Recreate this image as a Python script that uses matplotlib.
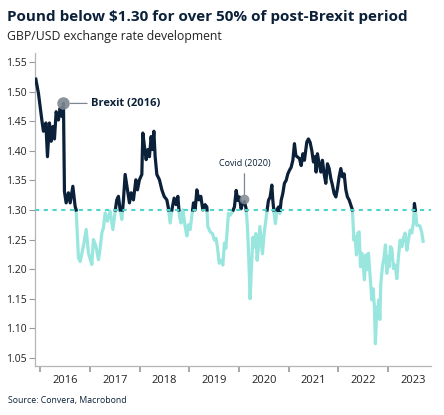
import numpy as np
import matplotlib
matplotlib.use("Agg")
import matplotlib.pyplot as plt

# =========================
# DATA
# =========================

# time in decimal years, GBP/USD rate
t = [2015.913, 2015.966, 2016.034, 2016.066, 2016.115, 2016.147, 2016.187, 2016.221,
     2016.256, 2016.288, 2016.322, 2016.368, 2016.402, 2016.437, 2016.469, 2016.489,
     2016.523, 2016.569, 2016.604, 2016.658, 2016.704, 2016.724, 2016.771, 2016.805,
     2016.871, 2016.926, 2016.972, 2017.020, 2017.040, 2017.072, 2017.121, 2017.173,
     2017.207, 2017.241, 2017.274, 2017.308, 2017.354, 2017.408, 2017.463, 2017.509,
     2017.542, 2017.575, 2017.610, 2017.644, 2017.676, 2017.710, 2017.757, 2017.797,
     2017.831, 2017.877, 2017.926, 2017.958, 2017.998, 2018.046, 2018.066, 2018.099,
     2018.133, 2018.167, 2018.199, 2018.233, 2018.260, 2018.288, 2018.314, 2018.348,
     2018.400, 2018.449, 2018.495, 2018.549, 2018.581, 2018.616, 2018.650, 2018.696,
     2018.736, 2018.771, 2018.803, 2018.837, 2018.871, 2018.918, 2018.952, 2018.984,
     2019.018, 2019.052, 2019.085, 2019.119, 2019.153, 2019.193, 2019.233, 2019.274,
     2019.320, 2019.354, 2019.374, 2019.421, 2019.467, 2019.507, 2019.541, 2019.575,
     2019.602, 2019.642, 2019.676, 2019.708, 2019.736, 2019.769, 2019.789, 2019.823,
     2019.869, 2019.909, 2019.944, 2019.978, 2020.010, 2020.044, 2020.070, 2020.111,
     2020.145, 2020.171, 2020.199, 2020.225, 2020.252, 2020.280, 2020.312, 2020.340,
     2020.366, 2020.392, 2020.421, 2020.447, 2020.473, 2020.507, 2020.541, 2020.567,
     2020.594, 2020.628, 2020.662, 2020.682, 2020.708, 2020.734, 2020.763, 2020.795,
     2020.823, 2020.849, 2020.883, 2020.915, 2020.950, 2020.984, 2021.016, 2021.050,
     2021.085, 2021.117, 2021.145, 2021.185, 2021.217, 2021.252, 2021.286, 2021.318,
     2021.366, 2021.398, 2021.433, 2021.467, 2021.499, 2021.533, 2021.553, 2021.579,
     2021.614, 2021.648, 2021.680, 2021.714, 2021.748, 2021.781, 2021.815, 2021.849,
     2021.881, 2021.915, 2021.950, 2021.982, 2022.016, 2022.050, 2022.083, 2022.117,
     2022.151, 2022.183, 2022.217, 2022.252, 2022.284, 2022.312, 2022.338, 2022.364,
     2022.392, 2022.419, 2022.445, 2022.473, 2022.505, 2022.525, 2022.553, 2022.579,
     2022.606, 2022.626, 2022.654, 2022.674, 2022.700, 2022.726, 2022.746, 2022.775,
     2022.795, 2022.815, 2022.835, 2022.855, 2022.887, 2022.921, 2022.948, 2022.976,
     2022.996, 2023.022, 2023.048, 2023.076, 2023.109, 2023.143, 2023.177, 2023.209,
     2023.243, 2023.278, 2023.310, 2023.344, 2023.378, 2023.410, 2023.445, 2023.479,
     2023.511, 2023.531, 2023.559, 2023.579, 2023.622, 2023.646, 2023.680, 2023.706]

rate = [1.521, 1.497, 1.452, 1.433, 1.447, 1.390, 1.447, 1.416,
        1.441, 1.420, 1.466, 1.452, 1.472, 1.458, 1.480, 1.331,
        1.312, 1.329, 1.312, 1.340, 1.306, 1.300, 1.219, 1.213,
        1.239, 1.267, 1.227, 1.213, 1.208, 1.250, 1.239, 1.216,
        1.235, 1.261, 1.270, 1.295, 1.281, 1.298, 1.267, 1.298,
        1.317, 1.323, 1.300, 1.284, 1.317, 1.360, 1.334, 1.312,
        1.329, 1.317, 1.351, 1.334, 1.351, 1.360, 1.430, 1.407,
        1.385, 1.402, 1.390, 1.424, 1.402, 1.433, 1.390, 1.360,
        1.351, 1.334, 1.323, 1.317, 1.303, 1.278, 1.300, 1.320,
        1.309, 1.323, 1.289, 1.278, 1.300, 1.272, 1.256, 1.275,
        1.267, 1.289, 1.312, 1.300, 1.334, 1.317, 1.323, 1.300,
        1.309, 1.305, 1.272, 1.263, 1.260, 1.249, 1.252, 1.232,
        1.210, 1.215, 1.207, 1.244, 1.235, 1.272, 1.294, 1.291,
        1.297, 1.305, 1.333, 1.316, 1.322, 1.302, 1.311, 1.314,
        1.302, 1.272, 1.215, 1.150, 1.204, 1.254, 1.237, 1.260,
        1.215, 1.237, 1.272, 1.249, 1.226, 1.260, 1.283, 1.300,
        1.316, 1.322, 1.342, 1.316, 1.294, 1.277, 1.300, 1.305,
        1.294, 1.316, 1.328, 1.345, 1.350, 1.361, 1.367, 1.372,
        1.384, 1.412, 1.392, 1.389, 1.387, 1.375, 1.395, 1.384,
        1.415, 1.420, 1.414, 1.400, 1.381, 1.390, 1.364, 1.395,
        1.378, 1.364, 1.384, 1.361, 1.345, 1.378, 1.370, 1.353,
        1.342, 1.328, 1.322, 1.336, 1.356, 1.370, 1.356, 1.361,
        1.334, 1.322, 1.317, 1.308, 1.300, 1.249, 1.255, 1.224,
        1.261, 1.263, 1.204, 1.227, 1.201, 1.182, 1.224, 1.199,
        1.227, 1.204, 1.170, 1.148, 1.167, 1.136, 1.074, 1.136,
        1.125, 1.148, 1.115, 1.176, 1.204, 1.221, 1.241, 1.193,
        1.221, 1.204, 1.238, 1.235, 1.201, 1.207, 1.184, 1.221,
        1.249, 1.238, 1.252, 1.261, 1.232, 1.249, 1.266, 1.261,
        1.278, 1.311, 1.294, 1.274, 1.274, 1.272, 1.261, 1.247]

threshold = 1.30
years = [2016, 2017, 2018, 2019, 2020, 2021, 2022, 2023]
yticks = [1.05, 1.10, 1.15, 1.20, 1.25, 1.30, 1.35, 1.40, 1.45, 1.50, 1.55]

brexit = (2016.469, 1.480)
covid = (2020.111, 1.319)

NAVY = "#0b2039"
AQUA = "#98e6de"
TURQ = "#4fd6cb"
GREY = "#7d8791"

plt.rcParams["font.family"] = ["Open Sans", "DejaVu Sans"]

# =========================
# SPLIT AT 1.30
# =========================
tx, ry = [t[0]], [rate[0]]
for i in range(1, len(t)):
    a, b = rate[i - 1] - threshold, rate[i] - threshold
    if a * b < 0:
        f = a / (a - b)
        tx.append(t[i - 1] + f * (t[i] - t[i - 1]))
        ry.append(threshold)
    tx.append(t[i])
    ry.append(rate[i])
tx = np.array(tx)
ry = np.array(ry)
above = np.where(ry >= threshold - 1e-9, ry, np.nan)
below = np.where(ry <= threshold + 1e-9, ry, np.nan)

# =========================
# PLOT
# =========================
fig = plt.figure(figsize=(4.44, 4.15), dpi=100)
ax = fig.add_axes([0.078, 0.119, 0.893, 0.753])

ax.plot(tx, below, color=AQUA, lw=2.3, solid_joinstyle="round", zorder=2)
ax.plot(tx, above, color=NAVY, lw=2.3, solid_joinstyle="round", zorder=3)
ax.axhline(threshold, color=TURQ, lw=1.5, ls=(0, (2, 2.2)), zorder=4)

# annotations
ax.plot(*brexit, "o", ms=9, color=GREY, alpha=0.9, mec="none", zorder=5)
ax.annotate("Brexit (2016)", xy=brexit, xytext=(20, 0), textcoords="offset points",
            va="center", ha="left", fontsize=8, fontweight="bold", color=NAVY,
            arrowprops=dict(arrowstyle="-", color=GREY, lw=0.9, shrinkA=1, shrinkB=5))
ax.plot(*covid, "o", ms=7, color=GREY, alpha=0.85, mec="none", zorder=5)
ax.annotate("Covid (2020)", xy=covid, xytext=(0, 22), textcoords="offset points",
            va="bottom", ha="center", fontsize=6.5, color=NAVY,
            arrowprops=dict(arrowstyle="-", color=GREY, lw=0.9, shrinkA=2, shrinkB=3))

ax.set_xlim(2015.889, 2023.867)
ax.set_ylim(1.037, 1.565)

ax.set_yticks(yticks)
ax.set_yticklabels([f"{v:.2f}" for v in yticks])
ax.set_xticks(years)
ax.set_xticklabels([])
ax.set_xticks([y + 0.5 for y in years], minor=True)
ax.set_xticklabels([str(y) for y in years], minor=True)

ax.tick_params(axis="y", length=4, width=0.8, color="#9a9a9a", labelsize=7.5,
               labelcolor="#222222", pad=2)
ax.tick_params(axis="x", which="major", direction="out", length=4, width=1.2,
               color="#9a9a9a", pad=2)
ax.tick_params(axis="x", which="minor", length=0, labelsize=8, labelcolor="#222222", pad=7)

for s in ["top", "right"]:
    ax.spines[s].set_visible(False)
for s in ["left", "bottom"]:
    ax.spines[s].set_color("#b5b5b5")
    ax.spines[s].set_linewidth(0.9)

fig.text(0.016, 0.958, "Pound below $1.30 for over 50% of post-Brexit period",
         fontsize=11, fontweight="bold", color=NAVY, va="center")
fig.text(0.016, 0.912, "GBP/USD exchange rate development",
         fontsize=8.8, color="#222222", va="center")
fig.text(0.018, 0.036, "Source: Convera, Macrobond", fontsize=6.3, color=NAVY, va="center")

fig.savefig("out.png", dpi=100)
